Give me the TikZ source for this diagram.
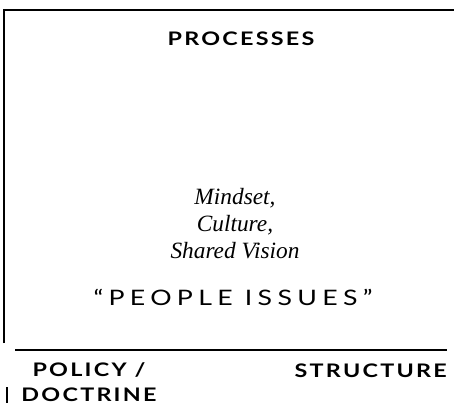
\documentclass[tikz,border=0pt]{standalone}
\usepackage{fontspec}
\newfontfamily\headfont{Lato}[FakeStretch=1.25, LetterSpace=12]
\newfontfamily\issuefont{Lato}[FakeStretch=1.25, LetterSpace=25]
\newfontfamily\mindfont{Liberation Serif}
\tikzset{
  heading/.style={font=\headfont\bfseries\fontsize{14}{18.75}\selectfont, inner sep=0pt},
  mindtext/.style={font=\mindfont\itshape\fontsize{17.5}{20.25}\selectfont, align=center, inner sep=0pt},
  issuetext/.style={font=\issuefont\fontsize{16}{18}\selectfont, inner sep=0pt},
  rule/.style={line width=0.9pt}
}
\begin{document}
\begin{tikzpicture}[x=0.75pt,y=-0.75pt]
    \useasboundingbox (0,0) rectangle (454,412);
    % Kotak atas
    \draw[rule] (4,343) -- (4,10) -- (454,10);
    \draw[rule] (15,350) -- (447,350);
    \draw[rule] (7,387) -- (7,403);
    % Teks dalam kotak
    \node[heading, anchor=base] (processes) at (241,45) {PROCESSES};
    \node[mindtext, anchor=north] (mindset) at (235,188) {Mindset,\\Culture,\\Shared Vision};
    \node[issuetext, anchor=base] (people) at (233,305) {“PEOPLE ISSUES”};
    % Teks di bawah garis
    \node[heading, anchor=north, align=center] (policy) at (89,362) {POLICY /\\DOCTRINE};
    \node[heading, anchor=base east] (structure) at (447,377) {STRUCTURE};
\end{tikzpicture}
\end{document}
